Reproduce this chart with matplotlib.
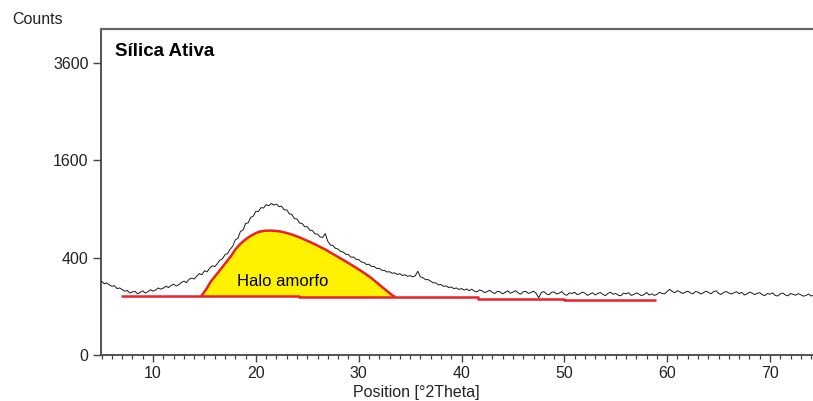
import numpy as np
import matplotlib
matplotlib.use("Agg")
import matplotlib.pyplot as plt
from matplotlib.ticker import FixedLocator, MultipleLocator, NullLocator

plt.rcParams['font.family'] = ['Liberation Sans', 'DejaVu Sans']

# Diffractogram counts, sampled every 0.25 degrees starting at 5.00 deg 2theta
counts = [
    230, 214, 219, 208, 199, 203, 186, 190,
    181, 172, 176, 162, 168, 171, 158, 166,
    174, 162, 169, 180, 172, 178, 190, 183,
    189, 200, 192, 204, 212, 201, 208, 222,
    230, 221, 242, 250, 244, 262, 280, 272,
    300, 292, 318, 336, 330, 352, 380, 390,
    426, 436, 472, 500, 560, 575, 645, 660,
    730, 738, 800, 815, 872, 870, 918, 912,
    955, 940, 970, 950, 962, 930, 935, 890,
    890, 842, 835, 785, 782, 735, 730, 695,
    695, 658, 655, 620, 618, 588, 584, 622,
    545, 512, 505, 480, 474, 452, 447, 428,
    426, 404, 405, 386, 384, 366, 362, 346,
    348, 331, 332, 316, 318, 303, 302, 291,
    293, 282, 285, 274, 279, 267, 272, 262,
    266, 258, 265, 296, 258, 252, 240, 240,
    230, 220, 220, 207, 210, 199, 202, 192,
    196, 186, 190, 181, 187, 178, 184, 175,
    183, 172, 168, 179, 174, 164, 170, 177,
    165, 160, 172, 168, 158, 166, 174, 161,
    167, 175, 163, 156, 169, 171, 160, 165,
    172, 161, 138, 164, 170, 158, 153, 166,
    168, 157, 162, 170, 155, 151, 163, 160,
    166, 154, 158, 167, 162, 150, 157, 164,
    152, 160, 165, 155, 149, 161, 166, 156,
    160, 151, 148, 162, 158, 164, 150, 155,
    163, 157, 149, 154, 165, 152, 158, 150,
    155, 166, 160, 158, 171, 182, 170, 164,
    175, 168, 160, 166, 172, 163, 158, 170,
    167, 157, 163, 172, 166, 158, 169, 174,
    160, 155, 166, 170, 162, 157, 164, 169,
    159, 166, 152, 157, 167, 162, 154, 161,
    164, 153, 149, 160, 156, 163, 150, 147,
    158, 162, 152, 148, 160, 155, 151, 159,
    153, 146, 150, 157, 147, 151,
]
two_theta = 5.0 + 0.25 * np.arange(len(counts))

# Amorphous halo outline (upper edge)
halo_x = [14.7, 15.2, 15.6, 16.1, 16.6, 17.1, 17.6, 18.0, 18.5, 19.0,
          19.5, 20.0, 20.4, 20.9, 21.4, 21.9, 22.4, 22.8, 23.3, 23.8,
          24.3, 24.8, 25.3, 25.8, 26.3, 26.8, 27.2, 27.7, 28.2, 28.7,
          29.2, 29.7, 30.2, 30.7, 31.1, 31.6, 32.1, 32.6, 33.0, 33.3, 33.6]
halo_y = [147, 185, 226, 268, 313, 362, 415, 470, 522, 565,
          600, 628, 644, 652, 654, 651, 644, 634, 620, 602,
          582, 560, 538, 515, 491, 468, 446, 421, 396, 372,
          348, 324, 300, 276, 257, 230, 204, 180, 162, 150, 141]

# Background line under the pattern
base_x = [6.9, 15.6, 15.6, 24.2, 24.2, 41.6, 41.6, 50.0, 50.0, 58.9]
base_y = [148, 148, 145, 145, 141, 141, 134, 134, 128, 128]

y_ticks = [0, 400, 1600, 3600]
x_ticks = [10, 20, 30, 40, 50, 60, 70]

W, H = 813, 401
fig = plt.figure(figsize=(W / 100, H / 100), dpi=100)
ax = fig.add_axes([101 / W, 46 / H, 712 / W, 326 / H])

ax.set_yscale('function', functions=(lambda v: np.sqrt(np.clip(v, 0, None)),
                                     lambda v: np.square(v)))

red = '#e8212b'
yellow = '#fff200'

# Halo area closed along the background line
poly_x = halo_x + [33.6, 24.2, 24.2, 15.6, 15.6, 14.7]
poly_y = halo_y + [141, 141, 145, 145, 148, 148]
ax.fill(poly_x, poly_y, color=yellow, lw=0, zorder=2)
ax.plot(halo_x, halo_y, color=red, lw=1.8, zorder=3, solid_capstyle='butt')
ax.plot(base_x, base_y, color=red, lw=1.8, zorder=3, solid_capstyle='butt')

ax.plot(two_theta, counts, color='#1a1a1a', lw=0.7, zorder=4)

ax.text(18.2, 202, 'Halo amorfo', fontsize=12, ha='left', va='baseline',
        color='black', zorder=5)

ax.set_xlim(4.94, 74.18)
ax.set_ylim(0, 4489)

ax.xaxis.set_major_locator(FixedLocator(x_ticks))
ax.xaxis.set_minor_locator(MultipleLocator(1))
ax.yaxis.set_major_locator(FixedLocator(y_ticks))
ax.yaxis.set_minor_locator(NullLocator())
ax.set_yticklabels([str(v) for v in y_ticks])

ax.tick_params(axis='x', which='major', length=5, width=1.0, color='#444444',
               labelsize=11.5, labelcolor='#222222', pad=3)
ax.tick_params(axis='x', which='minor', length=3, width=0.9, color='#444444')
ax.tick_params(axis='y', which='major', length=6, width=1.0, color='#444444',
               labelsize=11.5, labelcolor='#222222', pad=3)

ax.spines['right'].set_visible(False)
ax.spines['top'].set_color('#666666')
ax.spines['top'].set_linewidth(1.6)
ax.spines['left'].set_color('#444444')
ax.spines['left'].set_linewidth(1.3)
ax.spines['bottom'].set_color('#444444')
ax.spines['bottom'].set_linewidth(1.3)

fig.text(12 / W, 1 - 19 / H, 'Counts', fontsize=11.5, color='#222222',
         ha='left', va='center')
fig.text(115 / W, 1 - 52 / H, 'Sílica Ativa', fontsize=13.5, fontweight='bold',
         color='black', ha='left', va='center')
fig.text(416 / W, 1 - 392 / H, 'Position [°2Theta]', fontsize=11.5,
         color='#222222', ha='center', va='center')

fig.savefig('out.png', dpi=100)
